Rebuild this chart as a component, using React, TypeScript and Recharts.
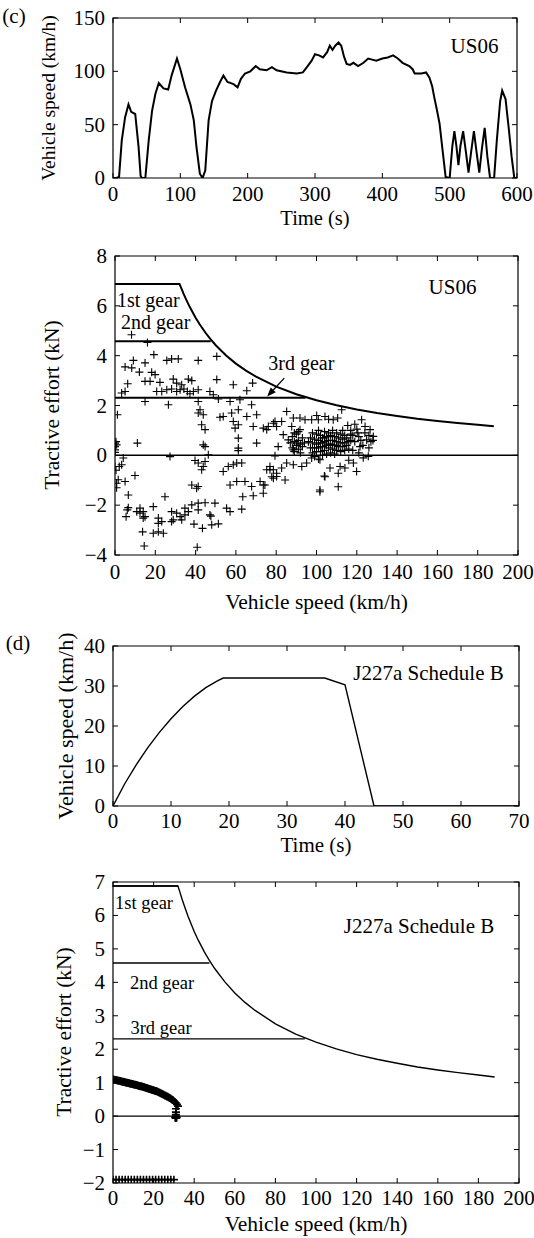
import React from "react"
import { ComposedChart, Line, Scatter, XAxis, YAxis, ReferenceArea, ReferenceLine } from "recharts"

const FONT = '"Liberation Serif", "Times New Roman", serif'

// (c) US06 speed trace
const us06Time = [0, 5, 9, 13, 18, 23, 27, 33, 38, 41, 43, 48, 53, 58, 63, 68, 75, 82, 87, 95, 100, 107, 115, 120, 124, 129, 133, 137, 142, 147, 153, 159, 164, 170, 179, 185, 190, 196, 204, 212, 218, 228, 236, 243, 258, 273, 282, 288, 295, 300, 306, 312, 318, 322, 326, 330, 335, 339, 343, 347, 352, 357, 364, 372, 379, 385, 391, 400, 408, 416, 423, 430, 440, 445, 448, 458, 465, 470, 474, 477, 481, 485, 490, 494, 500, 504, 507, 510, 513, 516, 520, 524, 528, 532, 536, 540, 544, 548, 552, 556, 560, 566, 570, 575, 578, 583, 588, 592, 596, 600]
const us06Speed = [0, 0, 1, 35, 57, 69, 62, 60, 29, 2, 0, 0, 35, 63, 79, 89, 84, 83, 96, 112, 102, 85, 69, 54, 29, 4, 0, 7, 54, 72, 82, 90, 96, 90, 88, 85, 93, 98, 100, 105, 102, 101, 104, 101, 99, 98, 99, 104, 110, 116, 115, 113, 118, 124, 120, 124, 127, 124, 114, 107, 106, 108, 105, 108, 112, 111, 110, 112, 113, 115, 112, 108, 105, 102, 98, 98, 99, 94, 86, 76, 64, 51, 23, 1, 0, 30, 44, 30, 12, 30, 44, 25, 5, 25, 44, 24, 5, 28, 47, 20, 0, 0, 35, 72, 82, 74, 45, 20, 0, 0]

// (c) US06 operating points [speed km/h, effort kN]
const us06Points = [
  [8.2, 4.84], [16.1, 4.53], [19.3, 4.04], [9.1, 3.81], [14.9, 3.71], [5, 3.55], [8.3, 3.51], [12.1, 3.34], [18.2, 3.33], [19.9, 3.24],
  [25.7, 3.81], [28.1, 3.87], [31.4, 3.87], [41.3, 3.81], [50.5, 3.97], [6.3, 2.87], [5, 2.56], [3.3, 2.5], [14.9, 2.97], [17.4, 2.97],
  [22.3, 2.93], [28.9, 3.06], [30.6, 2.9], [33.1, 2.83], [36.4, 3.06], [38.1, 3.0], [41.3, 2.63], [50.5, 3.04], [58.7, 2.83], [65.4, 2.59],
  [68.3, 2.9], [20.7, 2.56], [23.2, 2.56], [25.7, 2.63], [28.1, 2.66], [30.6, 2.56], [32.3, 2.63], [34.2, 2.66], [35.9, 2.56], [37.2, 2.47],
  [38.9, 2.56], [47.1, 2.56], [48.8, 2.43], [14.9, 2.16], [26.5, 2.03], [1.2, 1.63], [41.3, 2.16], [42.2, 1.83], [41.3, 1.7], [43.8, 1.63],
  [51.3, 2.26], [57.1, 2.16], [62, 2.23], [61.2, 1.83], [57.9, 1.7], [53.7, 1.56], [52.1, 1.53], [65.4, 1.56], [70.3, 1.63], [67.8, 2.03],
  [58.7, 1.36], [61.2, 1.23], [59.6, 1.09], [68.6, 1.16], [73.6, 1.09], [76.1, 1.16], [78.6, 1.29], [80.2, 1.16], [43, 1.23], [44.7, 1.03],
  [61.2, 0.69], [61.2, 0.29], [61.2, 0.19], [43.8, 0.42], [44.7, 0.35], [46.3, 0.02], [70.3, 0.49], [79.4, -0.02], [27.3, -0.05], [11.1, 0.49],
  [0, 0.49], [0, 0.35], [0, 0.22], [0.8, 0.42], [0, 0.12], [0.5, 0.55], [4.1, -0.11], [0, -0.45], [2.1, -0.45], [3.3, -0.38], [0.5, -0.6],
  [1.6, -0.98], [0.8, -1.12], [5, -1.05], [9.9, -0.81], [0.8, -1.3], [39.7, -0.21], [41.3, -0.31], [44.7, -0.25], [43.8, -0.45], [43, -0.58],
  [38.1, -1.19], [41.3, -1.25], [40.5, -1.32], [53.7, -0.65], [56.2, -0.45], [58.7, -0.38], [60.4, -0.31], [62.9, -0.31], [57.1, -1.19], [60.4, -1.05],
  [64.5, -1.05], [67.8, -1.25], [72, -1.05], [73.6, -1.19], [73.6, -1.52], [63.4, -1.66], [68.6, -1.62], [75.3, -0.58], [76.9, -0.45], [78.6, -0.58],
  [80.2, -0.85], [78.6, -0.92], [6.6, -1.59], [6.6, -2.1], [6.1, -2.19], [5.5, -2.46], [12.4, -2.12], [14, -2.26], [14.9, -2.46], [14, -2.52],
  [12.4, -2.32], [10.8, -2.26], [19, -2.06], [21.5, -2.52], [23.2, -2.66], [24.8, -1.66], [21.5, -2.73], [28.1, -2.26], [30.6, -2.32], [32.3, -2.46],
  [33.1, -2.59], [28.9, -2.59], [28.1, -2.66], [34.7, -2.39], [36.4, -2.26], [38.1, -1.99], [34.7, -2.12], [41.3, -2.19], [41.3, -1.92], [44.7, -1.9],
  [49.6, -1.92], [47.1, -2.39], [48, -2.79], [51.3, -2.75], [55.4, -2.12], [57.1, -2.26], [62.9, -2.16], [13.7, -3.07], [19, -3.13], [21.5, -3.07],
  [24, -3.13], [14.5, -3.64], [40.8, -3.69], [39.2, -2.76], [43.4, -2.93], [47.6, -2.44],
  [85.2, 1.76], [112.5, 1.83], [122.4, 1.43], [75.3, 1.03], [79.4, 1.36], [82.7, 1.36], [88.5, 1.5], [91.8, 1.5], [94.3, 1.43], [97.6, 1.43],
  [100.9, 1.43], [104.2, 1.56], [108.3, 1.43], [87.7, 1.16], [91.8, 1.03], [83.5, 0.83], [86, 0.62], [81, 0.35], [88.5, 0.22], [90.2, 0.49],
  [121.6, 0.35], [124.9, 0.62], [128.2, 0.76], [126.6, 1.03], [124.1, 1.16], [125.7, -0.04], [123.2, -0.1], [118.3, -0.31], [119.9, -0.65], [114.1, -0.51],
  [111.7, -0.45], [110.8, -0.72], [104.2, -0.86], [106.7, -0.51], [101.7, -0.18], [97.6, -0.11], [95.1, -0.31], [92.7, -0.45], [88.5, -0.38], [85.2, -0.31],
  [82.7, -0.51], [76.9, -0.58], [80.2, -0.72], [77.8, -0.86], [101.7, -1.39], [110.8, -1.26], [84.4, -0.99], [74.4, -1.19], [101.7, -1.46], [103.9, -0.83],
  [100.1, 1.6], [106, 1.45], [110.5, 1.5], [115.5, 1.2], [117, 1.0], [119, 1.25], [120.5, 0.9], [122, 0.6], [121, 0.1], [118, 0.2], [116, -0.2],
  [97, 0.3], [97, 0.7], [98, 0.1], [98, 0.5], [98, 0.9], [99, 0.3], [99, 0.65], [99, -0.05], [100, 0.45], [100, 0.85], [100, 0.15], [101, 0.6],
  [101, 0.3], [101, 1.0], [101, -0.15], [102, 0.5], [102, 0.15], [102, 0.8], [103, 0.35], [103, 0.7], [103, 0.0], [104, 0.55], [104, 0.2],
  [104, 0.95], [105, 0.4], [105, 0.75], [105, 0.05], [106, 0.6], [106, 0.3], [106, 0.9], [107, 0.45], [107, 0.1], [107, 0.8], [108, 0.25],
  [108, 0.6], [108, 1.0], [109, 0.4], [109, 0.75], [109, 0.05], [110, 0.55], [110, 0.2], [110, 0.9], [111, 0.35], [111, 0.7], [112, 0.5],
  [112, 0.15], [112, 0.85], [113, 0.35], [113, 0.65], [113, 1.0], [114, 0.5], [114, 0.2], [114, 0.8], [115, 0.4], [115, 0.7], [116, 0.55],
  [116, 0.25], [117, 0.6], [117, 0.85], [96, 0.55], [104, 0.7], [106, 0.45], [108, 0.4], [110, 0.4], [102, 0.35], [103, 0.5],
  [87, 0.5], [88, 0.3], [88, 0.75], [89, 0.15], [89, 0.55], [90, 0.4], [90, 0.85], [91, 0.25], [91, 0.6], [92, 0.45], [92, 0.1], [93, 0.7],
  [93, 0.35], [94, 0.5], [89, 0.9], [91, 0.95], [118, 0.8], [119, 0.55], [120, 1.05], [121, 0.75], [123, 0.4], [124, 0.9], [126, 0.3],
  [127, 0.55], [128, 0.6], [126, 0.8],
]

// max tractive effort envelope and gear limits (shared by both effort plots)
const envSpeed = [0, 32, 33, 34, 35, 37, 40, 42, 45, 47, 50, 55, 60, 65, 70, 80, 90, 100, 110, 120, 130, 140, 150, 160, 170, 180, 188]
const envEffort = [6.88, 6.88, 6.69, 6.49, 6.31, 5.97, 5.52, 5.26, 4.91, 4.7, 4.42, 4.02, 3.68, 3.4, 3.16, 2.76, 2.45, 2.21, 2.01, 1.84, 1.7, 1.58, 1.47, 1.38, 1.3, 1.23, 1.17]
const gearEffort = [6.88, 4.58, 2.31]
const gearMaxSpeed = [32, 47.5, 94.5]

// (d) J227a schedule B speed trace
const j227Time = [0, 2, 4, 6, 8, 10, 12, 14, 16, 18, 19, 36.5, 40, 45, 70]
const j227Speed = [0, 5.5, 10.3, 14.6, 18.4, 21.8, 24.8, 27.4, 29.6, 31.3, 32, 32, 30.3, 0, 0]

// (d) J227a operating points
const j227AccelSpeed = [0, 0.5, 1, 1.5, 2, 2.5, 3, 3.5, 4, 4.5, 5, 5.5, 6, 6.5, 7, 7.5, 8, 8.5, 9, 9.5, 10, 10.5, 11, 11.5, 12, 12.5, 13, 13.5, 14, 14.5, 15, 15.5, 16, 16.5, 17, 17.5, 18, 18.5, 19, 19.5, 20, 20.5, 21, 21.5, 22, 22.5, 23, 23.5, 24, 24.5, 25, 25.5, 26, 26.5, 27, 27.5, 28, 28.5, 29, 29.5, 30, 30.5, 31, 31.5, 32]
const j227AccelEffort = [1.1, 1.09, 1.08, 1.08, 1.07, 1.06, 1.06, 1.05, 1.04, 1.03, 1.03, 1.02, 1.01, 1.0, 1.0, 0.99, 0.98, 0.97, 0.97, 0.96, 0.95, 0.94, 0.94, 0.93, 0.92, 0.91, 0.9, 0.89, 0.89, 0.88, 0.87, 0.86, 0.85, 0.84, 0.83, 0.82, 0.81, 0.8, 0.79, 0.78, 0.77, 0.76, 0.75, 0.74, 0.73, 0.71, 0.7, 0.68, 0.67, 0.65, 0.64, 0.62, 0.61, 0.59, 0.58, 0.56, 0.54, 0.52, 0.5, 0.48, 0.45, 0.42, 0.39, 0.35, 0.3]
const j227CoastPoints = [[31, 0.22], [31, 0.12], [31, 0.05], [31, 0], [30.6, -0.04], [31.4, -0.04], [31, -0.06]]
const j227BrakeSpeed = [0, 1.5, 3, 4.5, 6, 7.5, 9, 10.5, 12, 13.5, 15, 16.5, 18, 19.5, 21, 22.5, 24, 25.5, 27, 28.5, 30]
const j227BrakeEffort = -1.9

const xy = (xs: number[], ys: number[]) => xs.map((x, i) => ({ x, y: ys[i] }))
const pairs = (list: number[][]) => list.map(([x, y]) => ({ x, y }))

const us06Trace = xy(us06Time, us06Speed)
const envelope = xy(envSpeed, envEffort)
const gearLines = gearEffort.map((g, i) => [{ x: 0, y: g }, { x: gearMaxSpeed[i], y: g }])
const us06Cloud = pairs(us06Points)
const j227Trace = xy(j227Time, j227Speed)
const j227Cloud = [
  ...xy(j227AccelSpeed, j227AccelEffort),
  ...pairs(j227CoastPoints),
  ...j227BrakeSpeed.map((x) => ({ x, y: j227BrakeEffort })),
]

const fmt = (v: number) => String(v).replace("-", "\u2212")

function XTick({ x, y, payload, top, gap }: any) {
  return (
    <g>
      <line x1={x} x2={x} y1={y} y2={y - 5} stroke="#000" />
      <line x1={x} x2={x} y1={top} y2={top + 5} stroke="#000" />
      <text x={x} y={y + gap} textAnchor="middle" dominantBaseline="central" fontSize={21} fontFamily={FONT} fill="#000">
        {fmt(payload.value)}
      </text>
    </g>
  )
}

function YTick({ x, y, payload, right }: any) {
  return (
    <g>
      <line x1={x} x2={x + 5} y1={y} y2={y} stroke="#000" />
      <line x1={right} x2={right - 5} y1={y} y2={y} stroke="#000" />
      <text x={x - 8} y={y} textAnchor="end" dominantBaseline="central" fontSize={21} fontFamily={FONT} fill="#000">
        {fmt(payload.value)}
      </text>
    </g>
  )
}

function Plus({ cx, cy, w = 1.1 }: any) {
  return <path d={`M${cx - 4},${cy}h8M${cx},${cy - 4}v8`} stroke="#000" strokeWidth={w} fill="none" />
}

function Arrow({ x1, y1, x2, y2 }: any) {
  const a = Math.atan2(y2 - y1, x2 - x1)
  const bx = x2 - 9 * Math.cos(a)
  const by = y2 - 9 * Math.sin(a)
  const s = 3.5 * Math.sin(a)
  const c = 3.5 * Math.cos(a)
  return (
    <g>
      <line x1={x1} y1={y1} x2={bx} y2={by} stroke="#000" strokeWidth={1.3} />
      <polygon points={`${x2},${y2} ${bx + s},${by - c} ${bx - s},${by + c}`} fill="#000" />
    </g>
  )
}

// axes are 1px thick (a zero-sized axis is not drawn), so margins are the plot box minus 1
function Panel({ w, h, m, xDomain, xTicks, yDomain, yTicks, gap = 17, children }: any) {
  const top = m.top
  const right = w - m.right
  const margin = { top: m.top, right: m.right, bottom: m.bottom - 1, left: m.left - 1 }
  return (
    <ComposedChart width={w} height={h} margin={margin}>
      <XAxis type="number" dataKey="x" domain={xDomain} ticks={xTicks} interval={0} allowDataOverflow height={1}
        axisLine={false} tickLine={false} tickSize={0} tickMargin={0}
        tick={(p: any) => <XTick {...p} top={top} gap={gap} />} />
      <YAxis type="number" dataKey="y" domain={yDomain} ticks={yTicks} interval={0} allowDataOverflow width={1}
        axisLine={false} tickLine={false} tickSize={0} tickMargin={0}
        tick={(p: any) => <YTick {...p} right={right} />} />
      <ReferenceArea x1={xDomain[0]} x2={xDomain[1]} y1={yDomain[0]} y2={yDomain[1]} fill="none" stroke="#000" strokeWidth={1.2} ifOverflow="visible" />
      {children}
    </ComposedChart>
  )
}

function Note({ x, y, size = 21, rotate = false, children }: any) {
  return (
    <div style={{ position: "absolute", left: x, top: y, fontSize: size, lineHeight: 1, whiteSpace: "nowrap",
      transform: `translate(-50%, -50%)${rotate ? " rotate(-90deg)" : ""}` }}>
      {children}
    </div>
  )
}

const block = (top: number): React.CSSProperties => ({ position: "absolute", left: 0, top })

export default function App() {
  return (
    <div style={{ position: "absolute", left: 0, top: 0, width: 534, height: 1238, background: "#fff", fontFamily: FONT, color: "#000" }}>
      <div style={block(0)}>
        <Panel w={534} h={230} m={{ top: 18, right: 17, bottom: 52, left: 113 }} gap={16}
          xDomain={[0, 600]} xTicks={[0, 100, 200, 300, 400, 500, 600]} yDomain={[0, 150]} yTicks={[0, 50, 100, 150]}>
          <Line data={us06Trace} dataKey="y" stroke="#000" strokeWidth={2} dot={false} isAnimationActive={false} />
        </Panel>
      </div>

      <div style={block(230)}>
        <Panel w={534} h={400} m={{ top: 26, right: 16, bottom: 75, left: 115 }}
          xDomain={[0, 200]} xTicks={[0, 20, 40, 60, 80, 100, 120, 140, 160, 180, 200]} yDomain={[-4, 8]} yTicks={[-4, -2, 0, 2, 4, 6, 8]}>
          <ReferenceLine y={0} stroke="#000" strokeWidth={1.5} />
          {gearLines.map((g, i) => (
            <Line key={i} data={g} dataKey="y" stroke="#000" strokeWidth={2} dot={false} isAnimationActive={false} />
          ))}
          <Line data={envelope} dataKey="y" stroke="#000" strokeWidth={2} dot={false} isAnimationActive={false} />
          <Scatter data={us06Cloud} dataKey="y" shape={(p: any) => <Plus {...p} />} isAnimationActive={false} />
          <ReferenceLine segment={[{ x: 84, y: 3.1 }, { x: 75.5, y: 2.36 }]} shape={(p: any) => <Arrow {...p} />} />
        </Panel>
      </div>

      <div style={block(630)}>
        <Panel w={534} h={220} m={{ top: 16, right: 15, bottom: 44, left: 113 }} gap={15}
          xDomain={[0, 70]} xTicks={[0, 10, 20, 30, 40, 50, 60, 70]} yDomain={[0, 40]} yTicks={[0, 10, 20, 30, 40]}>
          <Line data={j227Trace} dataKey="y" stroke="#000" strokeWidth={1.4} dot={false} isAnimationActive={false} />
        </Panel>
      </div>

      <div style={block(850)}>
        <Panel w={534} h={388} m={{ top: 32, right: 15, bottom: 55, left: 113 }} gap={15}
          xDomain={[0, 200]} xTicks={[0, 20, 40, 60, 80, 100, 120, 140, 160, 180, 200]} yDomain={[-2, 7]} yTicks={[-2, -1, 0, 1, 2, 3, 4, 5, 6, 7]}>
          <ReferenceLine y={0} stroke="#000" strokeWidth={1.3} />
          {gearLines.map((g, i) => (
            <Line key={i} data={g} dataKey="y" stroke="#000" strokeWidth={1.4} dot={false} isAnimationActive={false} />
          ))}
          <Line data={envelope} dataKey="y" stroke="#000" strokeWidth={1.4} dot={false} isAnimationActive={false} />
          <Scatter data={j227Cloud} dataKey="y" shape={(p: any) => <Plus {...p} w={1.6} />} isAnimationActive={false} />
        </Panel>
      </div>

      <Note x={14} y={16}>(c)</Note>
      <Note x={474.5} y={46}>US06</Note>
      <Note x={49} y={98} size={19.5} rotate>Vehicle speed (km/h)</Note>
      <Note x={315} y={217.5} size={20.5}>Time (s)</Note>

      <Note x={452.5} y={287}>US06</Note>
      <Note x={148.3} y={300} size={20}>1st gear</Note>
      <Note x={155.6} y={322} size={20}>2nd gear</Note>
      <Note x={301.3} y={363} size={20}>3rd gear</Note>
      <Note x={52.7} y={405} size={21.5} rotate>Tractive effort (kN)</Note>
      <Note x={316.5} y={603} size={21.5}>Vehicle speed (km/h)</Note>

      <Note x={18} y={643}>(d)</Note>
      <Note x={428.5} y={673}>J227a Schedule B</Note>
      <Note x={66} y={726} size={22} rotate>Vehicle speed (km/h)</Note>
      <Note x={316} y={845}>Time (s)</Note>

      <Note x={144} y={903} size={18.5}>1st gear</Note>
      <Note x={162} y={983} size={18.5}>2nd gear</Note>
      <Note x={161} y={1028} size={18.5}>3rd gear</Note>
      <Note x={419} y={926}>J227a Schedule B</Note>
      <Note x={64.6} y={1032} size={21.5} rotate>Tractive effort (kN)</Note>
      <Note x={316} y={1225} size={21.5}>Vehicle speed (km/h)</Note>
    </div>
  )
}
